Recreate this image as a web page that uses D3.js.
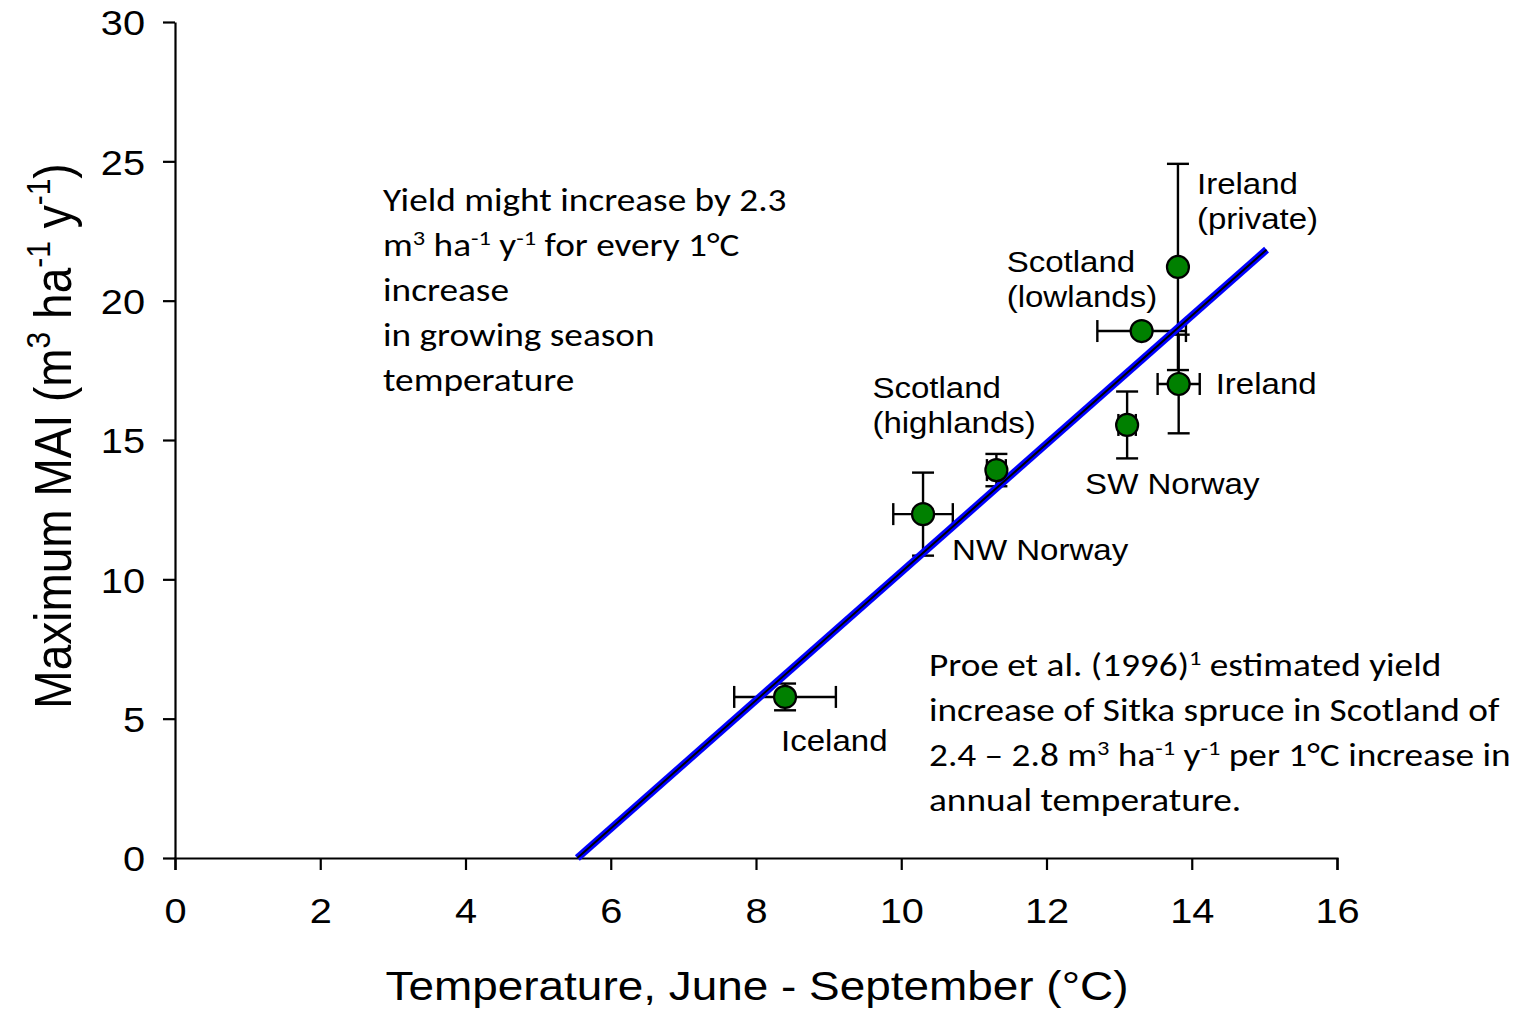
<!DOCTYPE html>
<html>
<head>
<meta charset="utf-8">
<script src="https://cdn.jsdelivr.net/npm/d3@7"></script>
<style>
  html, body { margin: 0; padding: 0; background: #fff; }
  svg { display: block; }
</style>
</head>
<body>
<svg id="chart" width="1539" height="1010"></svg>
<script>
// Site means of growing-season temperature vs maximum MAI, with error bars
const sites    = ["Iceland", "NW Norway", "Scotland (highlands)", "SW Norway", "Scotland (lowlands)", "Ireland", "Ireland (private)"];
const tempC    = [8.40, 10.30, 11.31, 13.11, 13.31, 13.82, 13.81];
const tempErr  = [0.70, 0.41, 0.13, 0.12, 0.61, 0.29, 0.00];
const maiVal   = [5.78, 12.34, 13.92, 15.54, 18.91, 17.01, 21.21];
const maiErr   = [0.48, 1.49, 0.58, 1.20, 0.00, 1.77, 3.70];

// Fitted trend: +2.3 m3 ha-1 y-1 per 1 °C
const fitX = [5.54, 15.03];
const fitY = [0, 21.83];

const xTicks = [0, 2, 4, 6, 8, 10, 12, 14, 16];
const yTicks = [0, 5, 10, 15, 20, 25, 30];

// Point labels (lines of text for each site)
const siteLabels = [
  ["Iceland"],
  ["NW Norway"],
  ["Scotland", "(highlands)"],
  ["SW Norway"],
  ["Scotland", "(lowlands)"],
  ["Ireland"],
  ["Ireland", "(private)"]
];

const svg = d3.select("#chart");
const margin = { left: 175, right: 202, top: 22, bottom: 152 };
const W = 1539, H = 1010;

const x = d3.scaleLinear().domain([0, 16]).range([margin.left, W - margin.right]);
const y = d3.scaleLinear().domain([0, 30]).range([H - margin.bottom, margin.top]);

const axisFont = "Liberation Sans, Arial, sans-serif";
const noteFont = "Carlito, Lato, Calibri, sans-serif";
const SX = 1.12;      // horizontal widening of the sans-serif text
const SXN = 1.165;    // horizontal widening of the annotation text

// widen a text element horizontally about its own anchor point
function widen(sel, sx) {
  sel.each(function () {
    const t = d3.select(this);
    const ax = +t.attr("x") || 0, ay = +t.attr("y") || 0;
    t.attr("transform", `translate(${ax},${ay}) scale(${sx},1) translate(${-ax},${-ay})`);
  });
}

// Axes
const xAxis = svg.append("g")
  .attr("transform", `translate(0,${y(0)})`)
  .call(d3.axisBottom(x).tickValues(xTicks).tickSize(12).tickPadding(28).tickSizeOuter(12));
const yAxis = svg.append("g")
  .attr("transform", `translate(${x(0)},0)`)
  .call(d3.axisLeft(y).tickValues(yTicks).tickSize(12).tickPadding(18).tickSizeOuter(0));

[xAxis, yAxis].forEach(g => {
  g.select(".domain").attr("stroke", "#000").attr("stroke-width", 2.2);
  g.selectAll(".tick line").attr("stroke", "#000").attr("stroke-width", 2.2);
  g.selectAll(".tick text").attr("font-family", axisFont).attr("font-size", 35.5).attr("fill", "#000");
});
xAxis.selectAll(".tick text").attr("dy", "0.71em");
yAxis.selectAll(".tick text").attr("dy", "0.36em");
widen(xAxis.selectAll(".tick text"), SX);
widen(yAxis.selectAll(".tick text"), SX);

// Axis titles
const xt = svg.append("text")
  .attr("x", 757).attr("y", 1000)
  .attr("text-anchor", "middle")
  .attr("font-family", axisFont).attr("font-size", 41)
  .text("Temperature, June - September (°C)");
widen(xt, SX);

const yt = svg.append("text")
  .attr("transform", `translate(71,436) scale(${SX},1) rotate(-90)`)
  .attr("text-anchor", "middle")
  .attr("font-family", axisFont).attr("font-size", 46);
const yTitleParts = [
  { t: "Maximum MAI (m" }, { t: "3", s: 1 }, { t: " ha" }, { t: "-1", s: 1 }, { t: " y" }, { t: "-1", s: 1 }, { t: ")" }
];
let prevSup = false;
yTitleParts.forEach(p => {
  const ts = yt.append("tspan").text(p.t);
  if (p.s) { ts.attr("font-size", 30).attr("dy", prevSup ? 0 : -19); prevSup = true; }
  else { ts.attr("dy", prevSup ? 19 : 0); prevSup = false; }
});

// Error bars
const bars = svg.append("g").attr("stroke", "#000").attr("stroke-width", 2.4).attr("fill", "none");
const cap = 11;
sites.forEach((s, i) => {
  const cx = x(tempC[i]), cy = y(maiVal[i]);
  if (maiErr[i] > 0) {
    const y1 = y(maiVal[i] + maiErr[i]), y2 = y(maiVal[i] - maiErr[i]);
    bars.append("line").attr("x1", cx).attr("x2", cx).attr("y1", y1).attr("y2", y2);
    bars.append("line").attr("x1", cx - cap).attr("x2", cx + cap).attr("y1", y1).attr("y2", y1);
    bars.append("line").attr("x1", cx - cap).attr("x2", cx + cap).attr("y1", y2).attr("y2", y2);
  }
  if (tempErr[i] > 0) {
    const x1 = x(tempC[i] - tempErr[i]), x2 = x(tempC[i] + tempErr[i]);
    bars.append("line").attr("x1", x1).attr("x2", x2).attr("y1", cy).attr("y2", cy);
    bars.append("line").attr("x1", x1).attr("x2", x1).attr("y1", cy - cap).attr("y2", cy + cap);
    bars.append("line").attr("x1", x2).attr("x2", x2).attr("y1", cy - cap).attr("y2", cy + cap);
  }
});

// Trend line: blue band with a black core
const fitPts = fitX.map((v, i) => [x(v), y(fitY[i])]);
const lineGen = d3.line();
svg.append("path").attr("d", lineGen(fitPts)).attr("stroke", "#0000ff").attr("stroke-width", 7.5).attr("fill", "none");
svg.append("path").attr("d", lineGen(fitPts)).attr("stroke", "#000").attr("stroke-width", 2).attr("fill", "none");

// Markers
svg.append("g").selectAll("circle").data(sites).join("circle")
  .attr("cx", (d, i) => x(tempC[i]))
  .attr("cy", (d, i) => y(maiVal[i]))
  .attr("r", 11)
  .attr("fill", "#008000")
  .attr("stroke", "#000").attr("stroke-width", 2.2);

// Site labels, placed relative to each marker
const labelOffsets = [
  [-4, 54], [29, 46], [-124, -72], [-42, 69], [-135, -59], [37, 10], [19, -73]
];
const lg = svg.append("g").attr("font-family", axisFont).attr("font-size", 29.5).attr("fill", "#000");
siteLabels.forEach((lines, i) => {
  const lx = x(tempC[i]) + labelOffsets[i][0];
  const ly = y(maiVal[i]) + labelOffsets[i][1];
  lines.forEach((ln, k) => {
    const t = lg.append("text").attr("x", lx).attr("y", ly + k * 35).text(ln);
    widen(t, SX);
  });
});

// Annotation blocks with superscripts
function note(x0, y0, lh, lines) {
  lines.forEach((segs, k) => {
    const t = svg.append("text")
      .attr("x", x0).attr("y", y0 + k * lh)
      .attr("font-family", noteFont).attr("font-size", 32).attr("fill", "#000");
    let sup = false;
    segs.forEach(p => {
      const ts = t.append("tspan").text(p.t);
      if (p.s) { ts.attr("font-size", 21).attr("dy", sup ? 0 : -11); sup = true; }
      else if (sup) { ts.attr("dy", 11); sup = false; }
    });
    widen(t, SXN);
  });
}

note(383, 211, 45, [
  [{ t: "Yield might increase by 2.3" }],
  [{ t: "m" }, { t: "3", s: 1 }, { t: " ha" }, { t: "-1", s: 1 }, { t: " y" }, { t: "-1", s: 1 }, { t: " for every 1°C" }],
  [{ t: "increase" }],
  [{ t: "in growing season" }],
  [{ t: "temperature" }]
]);

note(929, 676, 45, [
  [{ t: "Proe et al. (1996)" }, { t: "1", s: 1 }, { t: " estimated  yield" }],
  [{ t: "increase of Sitka spruce in Scotland of" }],
  [{ t: "2.4 – 2.8 m" }, { t: "3", s: 1 }, { t: " ha" }, { t: "-1", s: 1 }, { t: " y" }, { t: "-1", s: 1 }, { t: " per 1°C increase in" }],
  [{ t: "annual temperature." }]
]);
</script>
</body>
</html>
